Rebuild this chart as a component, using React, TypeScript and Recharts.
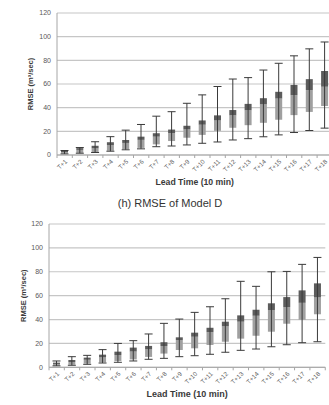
import { Bar, CartesianGrid, ComposedChart, ErrorBar, Label, XAxis, YAxis } from 'recharts';

const leadTimes = [
  'T+1', 'T+2', 'T+3', 'T+4', 'T+5', 'T+6', 'T+7', 'T+8', 'T+9',
  'T+10', 'T+11', 'T+12', 'T+13', 'T+14', 'T+15', 'T+16', 'T+17', 'T+18',
];

const rmseTicks = [0, 20, 40, 60, 80, 100, 120];

// upper panel
const upperMin = [0.9, 1.5, 2.1, 3.2, 4.4, 5.2, 7, 7.6, 8.5, 9.9, 11, 12.7, 13.8, 15.4, 17, 19, 20.7, 22.7];
const upperQ1 = [1.2, 1.8, 2.4, 3.6, 5, 6, 9, 11.8, 14.6, 17, 20.4, 23, 25.2, 27.2, 29.8, 33.7, 36.4, 41.4];
const upperMedian = [2.4, 4.3, 5.6, 8.2, 10.2, 12.8, 15.5, 18.5, 21.6, 25.6, 29.2, 33.5, 37.8, 42.8, 47.7, 50.6, 54.8, 57.7];
const upperQ3 = [3.4, 5.8, 7.8, 10.8, 12.7, 15.5, 18.4, 21.5, 24.7, 29.2, 33.5, 38, 43.2, 48, 53.4, 59.2, 64.1, 71];
const upperMax = [3.8, 6.3, 11.2, 15.5, 21, 25.8, 32.8, 36.6, 43.7, 50.8, 57.9, 64.2, 65.4, 71.8, 77.5, 83.8, 89.7, 95.5];

// Model D
const modelDMin = [1.2, 1.7, 2.5, 3.6, 4.2, 5.3, 6.7, 7.5, 8.9, 9.7, 10.9, 12.6, 14.2, 15.3, 17.2, 18.9, 20.6, 21.4];
const modelDQ1 = [1.4, 2.2, 3.1, 4.2, 5.3, 6.6, 8.7, 11.5, 14.5, 15.9, 18.7, 21.4, 24, 26.4, 29.8, 36.5, 39.8, 44.4];
const modelDMedian = [2.8, 4.4, 6.3, 8.3, 10.3, 13.2, 15, 17.8, 22.8, 25.6, 29.5, 34.3, 38.2, 43.2, 48, 50.5, 54, 58.5];
const modelDQ3 = [3.9, 6.1, 8.1, 10.6, 13.1, 16.5, 17.9, 21, 25.1, 29, 33.1, 38.2, 43.5, 48.2, 53.6, 58.8, 64.4, 70.3];
const modelDMax = [5.3, 8.9, 10, 14.8, 20, 22.3, 27.9, 36.8, 40.4, 46, 50.7, 57.4, 72, 67.8, 80, 80.3, 86.2, 92];

const buildRows = (mins: number[], q1: number[], med: number[], q3: number[], maxs: number[]) =>
  leadTimes.map((t, i) => ({
    t,
    base: q1[i],
    lower: med[i] - q1[i],
    upper: q3[i] - med[i],
    // whiskers hang off the top of the stack (q3)
    whisker: [q3[i] - mins[i], maxs[i] - q3[i]],
  }));

const upperRows = buildRows(upperMin, upperQ1, upperMedian, upperQ3, upperMax);
const modelDRows = buildRows(modelDMin, modelDQ1, modelDMedian, modelDQ3, modelDMax);

const FONT = '"Liberation Sans", Arial, sans-serif';
const HALF_BAND = 7.65;

const LeadTick = ({ x, y, payload, index }: any) => (
  <g>
    {index === 0 && <line x1={x - HALF_BAND} x2={x - HALF_BAND} y1={y} y2={y + 3} stroke="#a6a6a6" />}
    <line x1={x + HALF_BAND} x2={x + HALF_BAND} y1={y} y2={y + 3} stroke="#a6a6a6" />
    <text
      transform={`translate(${x + 3},${y + 7}) rotate(-45)`}
      textAnchor="end"
      fontSize={6.3}
      fontFamily={FONT}
      fill="#595959"
    >
      {payload.value}
    </text>
  </g>
);

interface PanelProps {
  rows: ReturnType<typeof buildRows>;
  width: number;
  height: number;
  margin: { top: number; right: number; left: number; bottom: number };
  yAxisWidth: number;
  xAxisHeight: number;
  xLabelOffset: number;
  xLabelSize: number;
}

const BoxPanel = ({ rows, width, height, margin, yAxisWidth, xAxisHeight, xLabelOffset, xLabelSize }: PanelProps) => (
  <ComposedChart width={width} height={height} data={rows} margin={margin} barCategoryGap={0}>
    <CartesianGrid vertical={false} stroke="#c6c6c6" strokeWidth={1.2} />
    <XAxis
      dataKey="t"
      interval={0}
      tickSize={0}
      tickMargin={0}
      tickLine={false}
      tick={<LeadTick />}
      height={xAxisHeight}
      stroke="#a6a6a6"
    >
      <Label
        value="Lead Time (10 min)"
        position="insideBottom"
        offset={xLabelOffset}
        style={{ fontSize: xLabelSize, fontWeight: 700, fontFamily: FONT, fill: '#3a3a3a' }}
      />
    </XAxis>
    <YAxis
      domain={[0, 120]}
      ticks={rmseTicks}
      width={yAxisWidth}
      tickLine={false}
      tickSize={0}
      tickMargin={6}
      stroke="#a6a6a6"
      tick={{ fontSize: 7, fill: '#595959', fontFamily: FONT }}
    >
      <Label
        value="RMSE (m³/sec)"
        position="center"
        angle={-90}
        dx={-16}
        style={{ fontSize: 7.5, fontWeight: 700, fontFamily: FONT, fill: '#3a3a3a' }}
      />
    </YAxis>
    <Bar dataKey="base" stackId="box" fill="transparent" barSize={7} isAnimationActive={false} />
    <Bar dataKey="lower" stackId="box" fill="#a0a0a0" barSize={7} isAnimationActive={false} />
    <Bar dataKey="upper" stackId="box" fill="#5c5c5c" barSize={7} isAnimationActive={false}>
      <ErrorBar dataKey="whisker" width={4} stroke="#3a3a3a" strokeWidth={1} direction="y" />
    </Bar>
  </ComposedChart>
);

export default function App() {
  return (
    <div style={{ position: 'absolute', left: 0, top: 0, width: 329, height: 405, background: '#fff', overflow: 'hidden' }}>
      <div style={{ position: 'absolute', left: 0, top: 0, width: 329, height: 200, overflow: 'hidden' }}>
        <BoxPanel
          rows={upperRows}
          width={340}
          height={200}
          margin={{ top: 13, right: 7.6, left: 35, bottom: 5 }}
          yAxisWidth={22}
          xAxisHeight={40}
          xLabelOffset={10}
          xLabelSize={8.7}
        />
      </div>
      <div
        style={{
          position: 'absolute',
          left: 0,
          top: 197,
          width: 340,
          textAlign: 'center',
          fontFamily: FONT,
          fontSize: 11,
          color: '#333',
        }}
      >
        (h) RMSE of Model D
      </div>
      <div style={{ position: 'absolute', left: 0, top: 212, width: 329, height: 193 }}>
        <BoxPanel
          rows={modelDRows}
          width={329}
          height={193}
          margin={{ top: 12, right: 3.7, left: 29, bottom: 2.7 }}
          yAxisWidth={20}
          xAxisHeight={35}
          xLabelOffset={5}
          xLabelSize={9}
        />
      </div>
    </div>
  );
}
